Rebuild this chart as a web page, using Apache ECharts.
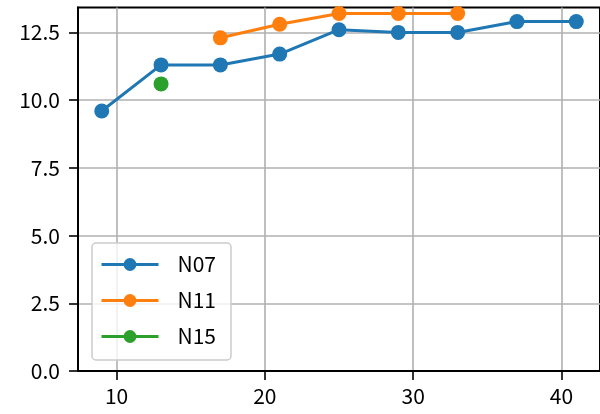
<!DOCTYPE html>
<html>
<head>
<meta charset="utf-8">
<script src="https://cdn.jsdelivr.net/npm/echarts@6/dist/echarts.min.js"></script>
<style>html,body{margin:0;padding:0;background:#fff;}#c{width:600px;height:414px;}</style>
</head>
<body>
<div id="c"></div>
<script>
const n07x = [9, 13, 17, 21, 25, 29, 33, 37, 41];
const n07y = [9.6, 11.3, 11.3, 11.7, 12.6, 12.5, 12.5, 12.9, 12.9];
const n11x = [17, 21, 25, 29, 33];
const n11y = [12.3, 12.8, 13.2, 13.2, 13.2];
const n15x = [13];
const n15y = [10.6];
const xTicks = [10, 20, 30, 40];
const yTicks = [0, 2.5, 5, 7.5, 10, 12.5];

const FONT = '"Noto Sans CJK JP", "Noto Sans", sans-serif';
const pairs = (xs, ys) => xs.map((x, i) => [x, ys[i]]);
const mk = (name, xs, ys, color) => ({
  name, type: 'line', data: pairs(xs, ys),
  symbol: 'circle', symbolSize: 15, showSymbol: true,
  lineStyle: { color, width: 3 },
  itemStyle: { color },
  emphasis: { disabled: true }
});

const chart = echarts.init(document.getElementById('c'));
chart.setOption({
  animation: false,
  grid: { left: 78, right: -3, top: 7.5, bottom: 43, show: true, borderColor: '#000', borderWidth: 2, backgroundColor: 'transparent' },
  xAxis: {
    type: 'value', min: 7.4, max: 42.6,
    axisLine: { show: true, onZero: false, lineStyle: { color: '#000', width: 2 } },
    axisTick: { show: true, length: 9, customValues: xTicks, lineStyle: { color: '#000', width: 1.6 } },
    axisLabel: { customValues: xTicks, margin: 15, color: '#000', fontSize: 21, fontFamily: FONT },
    splitLine: { show: true, lineStyle: { color: '#b0b0b0', width: 1.6 } }
  },
  yAxis: {
    type: 'value', min: 0, max: 13.42,
    axisLine: { show: true, lineStyle: { color: '#000', width: 2 } },
    axisTick: { show: true, length: 9, customValues: yTicks, lineStyle: { color: '#000', width: 1.6 } },
    axisLabel: { customValues: yTicks, margin: 18, color: '#000', fontSize: 21, fontFamily: FONT, formatter: v => v.toFixed(1) },
    splitLine: { show: true, lineStyle: { color: '#b0b0b0', width: 1.6 } }
  },
  legend: {
    orient: 'vertical', left: 92, top: 243,
    padding: [11, 15, 13, 8],
    itemWidth: 57, itemHeight: 16, itemGap: 15,
    backgroundColor: 'rgba(255,255,255,0.8)', borderColor: '#cccccc', borderWidth: 1.5, borderRadius: 4,
    lineStyle: { width: 3 },
    textStyle: { fontSize: 21, fontFamily: FONT, color: '#000', lineHeight: 20, padding: [0, 0, 0, 14] },
    data: ['N07', 'N11', 'N15']
  },
  series: [
    mk('N07', n07x, n07y, '#1f77b4'),
    mk('N11', n11x, n11y, '#ff7f0e'),
    mk('N15', n15x, n15y, '#2ca02c')
  ]
});
</script>
</body>
</html>
